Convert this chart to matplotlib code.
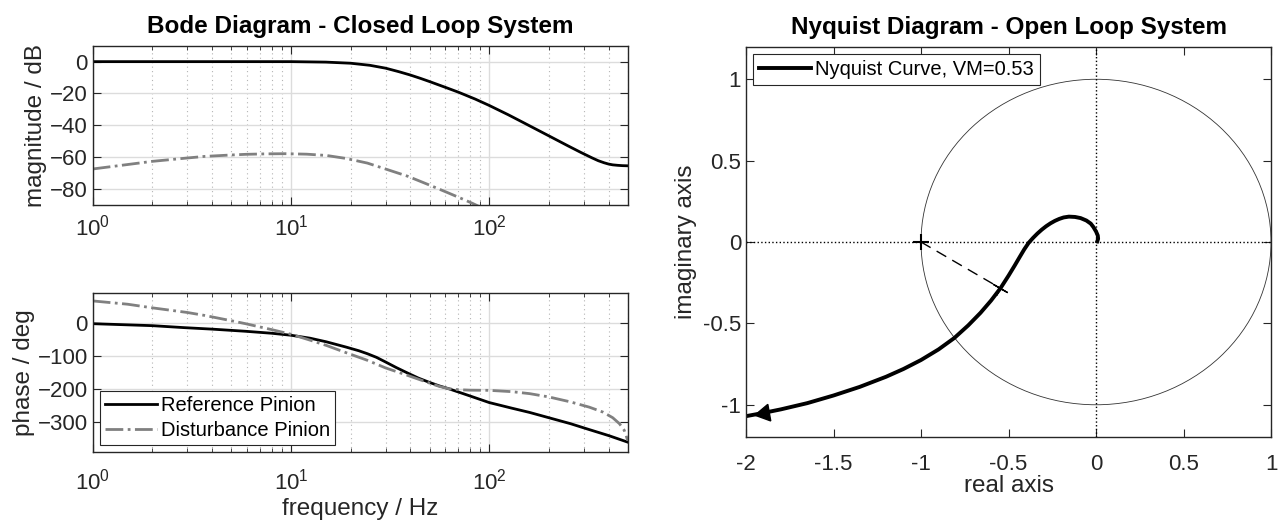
import matplotlib.pyplot as plt
from matplotlib.patches import Circle

plt.rcParams['font.family'] = ['Liberation Sans', 'DejaVu Sans']
plt.rcParams['mathtext.fontset'] = 'custom'
plt.rcParams['mathtext.rm'] = 'Liberation Sans'

# Bode data (frequency in Hz)
f_ref_mag = [1, 5, 10, 15, 20, 25, 30, 35, 40, 45, 50, 60, 70, 85, 100, 125, 150, 200, 250,
             290, 330, 355, 380, 400, 420, 445, 470, 500]
ref_mag = [0, 0, 0, -0.3, -1.0, -2.3, -4.1, -6.3, -8.4, -10.5, -12.5, -16.1, -19.2, -23.5,
           -27.5, -33.4, -38.5, -46.6, -52.9, -57.0, -60.4, -62.2, -63.5, -64.3, -64.8, -65.1,
           -65.3, -65.4]

f_dist_mag = [1, 1.5, 2, 3, 3.67, 5, 5.9, 7.5, 9.4, 12, 15.1, 19, 24.3, 30, 38.9, 50, 62.4, 72,
              82.8, 100]
dist_mag = [-67.4, -64.6, -62.6, -60.5, -59.5, -58.6, -58.2, -57.9, -57.8, -58.1, -58.9, -60.8,
            -63.7, -67.4, -72.0, -77.5, -82.5, -85.8, -89.1, -94]

f_ref_ph = [1, 2, 2.9, 4, 5.9, 8, 10, 12.5, 15.1, 19, 22, 24.3, 27, 30, 34, 38.9, 44, 50, 56,
            62.4, 80, 100, 130, 160, 200, 257, 320, 400, 500]
ref_ph = [-2, -8, -14, -18.5, -25, -31, -37, -46, -57, -73, -84, -93, -104, -118, -135, -152,
          -167, -180, -190.5, -199, -221, -241, -258, -271, -287, -305, -323, -341, -361]

f_dist_ph = [1, 1.5, 2, 3, 3.67, 5, 5.9, 8, 10, 12.5, 15.1, 19, 24.3, 30, 38.9, 50, 56, 62.4,
             70, 80, 100, 130, 160, 200, 257, 320, 375, 420, 454, 480, 500]
dist_ph = [67, 57, 46, 32, 23, 7, -2, -20, -34, -52, -68, -90, -113, -136, -159, -182, -192,
           -199, -202, -203.5, -204, -208, -214, -224, -239, -255, -270, -287, -305, -325, -356]

# Nyquist curve of the open loop
nyq_re = [0.007, 0.012, 0.010, 0.0, -0.015, -0.03, -0.055, -0.088, -0.12, -0.155, -0.185,
          -0.21, -0.235, -0.26, -0.285, -0.31, -0.335, -0.36, -0.385, -0.41, -0.435, -0.465,
          -0.50, -0.546, -0.60, -0.66, -0.73, -0.81, -0.90, -1.0, -1.1, -1.2, -1.35, -1.5,
          -1.65, -1.8, -1.9, -2.0]
nyq_im = [0.004, 0.02, 0.04, 0.065, 0.092, 0.113, 0.132, 0.147, 0.154, 0.156, 0.151, 0.142,
          0.13, 0.115, 0.097, 0.076, 0.052, 0.025, -0.005, -0.045, -0.09, -0.145, -0.207,
          -0.284, -0.36, -0.435, -0.512, -0.59, -0.66, -0.725, -0.78, -0.828, -0.89, -0.943,
          -0.99, -1.028, -1.05, -1.07]
vm_point = (-0.546, -0.284)
vm = 0.53

gray = (0.5, 0.5, 0.5)
axcol = '#262626'
fs = 16      # tick labels
lfs = 17.5   # axis labels / titles


def matlab_axes(ax, xpad):
    for s in ax.spines.values():
        s.set_color(axcol)
        s.set_linewidth(1.0)
    ax.tick_params(which='both', direction='in', top=True, right=True,
                   colors=axcol, labelsize=fs, labelcolor='#262626')
    ax.tick_params(which='major', length=6)
    ax.tick_params(which='minor', length=3)
    ax.tick_params(axis='x', which='both', pad=xpad)


fig = plt.figure(figsize=(12.84, 5.29), dpi=100)

# magnitude
ax1 = fig.add_axes([0.0722, 0.6125, 0.4167, 0.3011])
ax1.semilogx(f_ref_mag, ref_mag, color='k', lw=2)
ax1.semilogx(f_dist_mag, dist_mag, color=gray, lw=2, ls='-.')
ax1.set_xlim(1, 500)
ax1.set_ylim(-90, 10)
ax1.set_yticks([0, -20, -40, -60, -80])
ax1.grid(which='major', color='#dcdcdc', lw=1)
ax1.grid(which='minor', axis='x', color='#b4b4b4', lw=0.8, ls=(0, (1, 3)))
ax1.set_axisbelow(True)
ax1.set_ylabel('magnitude / dB', fontsize=lfs, color='#262626', labelpad=2)
ax1.set_title('Bode Diagram - Closed Loop System', fontsize=lfs, fontweight='bold', pad=9)
matlab_axes(ax1, 7)

# phase
ax2 = fig.add_axes([0.0722, 0.1461, 0.4167, 0.2994])
ax2.semilogx(f_ref_ph, ref_ph, color='k', lw=2, label='Reference Pinion')
ax2.semilogx(f_dist_ph, dist_ph, color=gray, lw=2, ls='-.', label='Disturbance Pinion')
ax2.set_xlim(1, 500)
ax2.set_ylim(-390, 90)
ax2.set_yticks([0, -100, -200, -300])
ax2.grid(which='major', color='#dcdcdc', lw=1)
ax2.grid(which='minor', axis='x', color='#b4b4b4', lw=0.8, ls=(0, (1, 3)))
ax2.set_axisbelow(True)
ax2.set_ylabel('phase / deg', fontsize=lfs, color='#262626', labelpad=2)
ax2.set_xlabel('frequency / Hz', fontsize=lfs, color='#262626', labelpad=3)
leg = ax2.legend(loc='lower left', fontsize=14.5, fancybox=False, edgecolor='#262626',
                 framealpha=1, borderaxespad=0.35, handlelength=2.6, borderpad=0.25,
                 labelspacing=0.3, handletextpad=0.2)
leg.get_frame().set_linewidth(0.8)
matlab_axes(ax2, 12)

# Nyquist
ax3 = fig.add_axes([0.581, 0.1733, 0.4089, 0.7384])
ax3.axhline(0, color='k', lw=1, ls=':')
ax3.axvline(0, color='k', lw=1, ls=':')
ax3.add_patch(Circle((0, 0), 1, fill=False, color='#333333', lw=0.6))
ax3.plot(nyq_re, nyq_im, color='k', lw=2.8, label='Nyquist Curve, VM=%.2f' % vm)
ax3.plot([-1, vm_point[0]], [0, vm_point[1]], color='k', lw=1, ls=(0, (8, 5)))
ax3.plot([-1], [0], marker='+', color='k', ms=12, mew=1.5)
ax3.plot([vm_point[0]], [vm_point[1]], marker=(4, 2, -30), color='k', ms=12, mew=1)
ax3.plot([nyq_re[-2]], [nyq_im[-2]], marker=(3, 0, 100), color='k', ms=14)
ax3.set_xlim(-2, 1)
ax3.set_ylim(-1.2, 1.2)
ax3.set_xticks([-2, -1.5, -1, -0.5, 0, 0.5, 1])
ax3.set_xticklabels(['-2', '-1.5', '-1', '-0.5', '0', '0.5', '1'])
ax3.set_yticks([-1, -0.5, 0, 0.5, 1])
ax3.set_yticklabels(['-1', '-0.5', '0', '0.5', '1'])
ax3.set_xlabel('real axis', fontsize=lfs, color='#262626', labelpad=0)
ax3.set_ylabel('imaginary axis', fontsize=lfs, color='#262626', labelpad=4)
ax3.set_title('Nyquist Diagram - Open Loop System', fontsize=lfs, fontweight='bold', pad=9)
leg3 = ax3.legend(loc='upper left', fontsize=14.5, fancybox=False, edgecolor='#262626',
                  framealpha=1, borderaxespad=0.35, handlelength=2.6, borderpad=0.3,
                  handletextpad=0.2)
leg3.get_frame().set_linewidth(0.8)
matlab_axes(ax3, 12)

plt.savefig('out.png', dpi=100)
